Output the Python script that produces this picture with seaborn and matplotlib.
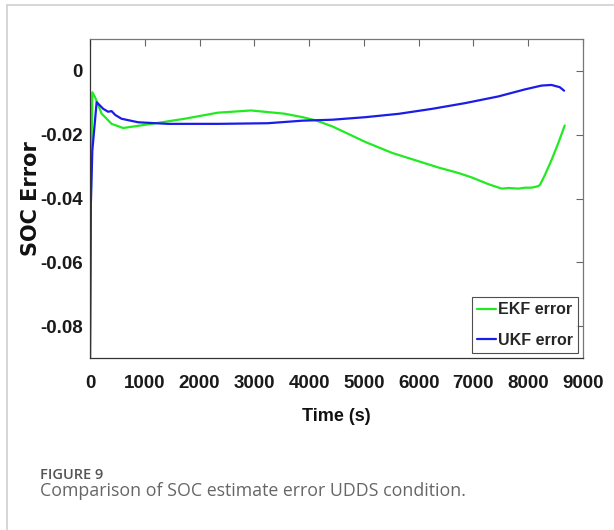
# SOC estimate error under UDDS condition: EKF vs UKF
import matplotlib
matplotlib.use("Agg")
import matplotlib.pyplot as plt
import seaborn as sns
from matplotlib.lines import Line2D

# EKF error
ekf_time = [0, 15, 42, 91, 212, 394, 606, 1121, 1727, 2333, 2939, 3545, 3879,
            4121, 4424, 5030, 5515, 5939, 6364, 6727, 6970, 7273, 7515, 7650,
            7818, 7950, 8061, 8170, 8212, 8303, 8424, 8545, 8667]
ekf_err = [-0.090, -0.040, -0.0067, -0.0082, -0.0134, -0.0166, -0.0179, -0.0166,
           -0.0150, -0.0131, -0.0124, -0.0134, -0.0145, -0.0155, -0.0174, -0.0223,
           -0.0257, -0.0280, -0.0303, -0.0320, -0.0334, -0.0355, -0.0369, -0.0367,
           -0.0369, -0.0366, -0.0366, -0.0362, -0.0358, -0.0327, -0.0280, -0.0228,
           -0.0171]

# UKF error
ukf_time = [0, 15, 42, 121, 242, 330, 394, 460, 576, 879, 1424, 2333, 3242,
            3879, 4424, 5030, 5636, 6242, 6848, 7455, 7939, 8242, 8424, 8576, 8655]
ukf_err = [-0.090, -0.042, -0.025, -0.0098, -0.0119, -0.0128, -0.0126, -0.0138,
           -0.0150, -0.0161, -0.0166, -0.0166, -0.0164, -0.0156, -0.0153, -0.0145,
           -0.01345, -0.0119, -0.0101, -0.0080, -0.0058, -0.0046, -0.0044, -0.0051,
           -0.0062]

x_ticks = [0, 1000, 2000, 3000, 4000, 5000, 6000, 7000, 8000, 9000]
y_ticks = [0, -0.02, -0.04, -0.06, -0.08]
y_tick_labels = ["0", "-0.02", "-0.04", "-0.06", "-0.08"]

sns.set_style("white")
main_font = ["Liberation Sans", "DejaVu Sans"]

fig = plt.figure(figsize=(6.14, 5.30), dpi=100)
ax = fig.add_axes([0.1466, 0.3245, 0.8029, 0.6019])

sns.lineplot(x=ekf_time, y=ekf_err, color="#22ea22", linewidth=1.6,
             label="EKF error", ax=ax, estimator=None)
sns.lineplot(x=ukf_time, y=ukf_err, color="#1c1ce8", linewidth=1.6,
             label="UKF error", ax=ax, estimator=None)

ax.set_xlim(0, 8950)
ax.set_ylim(-0.09, 0.01)
ax.set_xticks(x_ticks)
ax.set_yticks(y_ticks)
ax.set_yticklabels(y_tick_labels)
ax.tick_params(direction="in", length=5, width=0.8, color="#666666",
               top=True, right=True, labeltop=False, labelright=False,
               labelcolor="#1a1a1a")
ax.tick_params(axis="x", pad=12.5)
ax.tick_params(axis="y", pad=5)
for lab in ax.get_xticklabels() + ax.get_yticklabels():
    lab.set_family(main_font)
    lab.set_fontweight("bold")
    lab.set_fontsize(13.5)
for s in ax.spines.values():
    s.set_color("#777777")
    s.set_linewidth(0.9)
ax.spines["bottom"].set_color("#333333")
ax.spines["left"].set_color("#333333")

ax.set_xlabel("Time (s)", family=main_font, fontweight="bold", fontsize=13,
              color="#111111", va="top")
ax.xaxis.set_label_coords(0.5, -0.158)
ax.set_ylabel("SOC Error", family=["DejaVu Sans"], fontweight="bold",
              fontsize=15, color="#111111")
ax.yaxis.set_label_coords(-0.0995, 0.5)

leg = ax.legend(loc="lower right", frameon=True, fancybox=False,
                prop={"family": main_font, "weight": "bold", "size": 11.5},
                handlelength=1.15, handletextpad=0.12, borderpad=0.35,
                labelspacing=0.95, borderaxespad=0.3)
leg.get_frame().set_edgecolor("#222222")
leg.get_frame().set_linewidth(0.8)

# thin page border (top and left)
fig.add_artist(Line2D([7 / 614, 7 / 614], [0, 1 - 5 / 530], color="#d0d0d0", lw=1.2))
fig.add_artist(Line2D([7 / 614, 1], [1 - 5 / 530, 1 - 5 / 530], color="#d0d0d0", lw=1.2))

fig.text(40 / 614, 1 - 479 / 530, "FIGURE 9", family=["Open Sans", "DejaVu Sans"],
         fontweight="semibold", fontsize=10.5, color="#555555")
fig.text(40 / 614, 1 - 495.5 / 530, "Comparison of SOC estimate error UDDS condition.",
         family=["Open Sans", "DejaVu Sans"], fontsize=12.8, color="#666666")

fig.savefig("out.png", dpi=100)
